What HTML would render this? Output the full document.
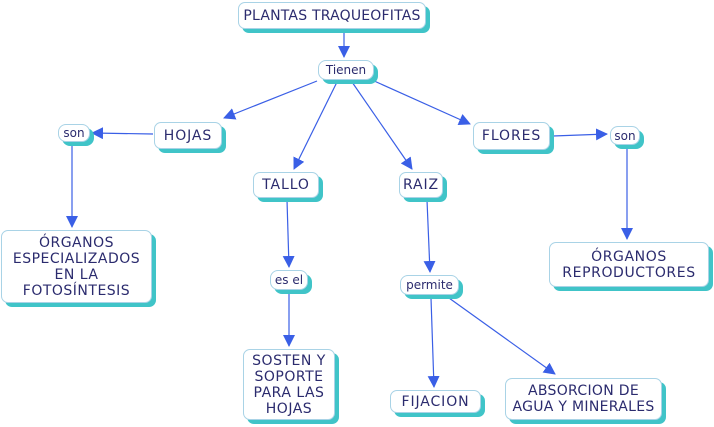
<!DOCTYPE html>
<html><head><meta charset="utf-8"><style>
body{margin:0;width:714px;height:427px;background:#fff;position:relative;overflow:hidden;font-family:"DejaVu Sans","Liberation Sans",sans-serif;}
.b{position:absolute;box-sizing:border-box;background:#fff;border:1px solid #a9d3e6;border-radius:7px;box-shadow:4px 4px 0 #40c4c8;color:#2b2b6e;display:flex;align-items:center;justify-content:center;text-align:center;font-size:14px;line-height:16px;letter-spacing:0.9px;white-space:nowrap}
.s{font-size:12px;border-radius:8px;letter-spacing:0}
svg{position:absolute;left:0;top:0}
</style></head><body>
<svg width="714" height="427">
<defs><marker id="a" markerWidth="12" markerHeight="12" refX="11" refY="6" orient="auto" markerUnits="userSpaceOnUse"><path d="M0,0 L12,6 L0,12 z" fill="#3a5fe6"/></marker></defs>
<g stroke="#3a5fe6" stroke-width="1.2" marker-end="url(#a)">
<line x1="344" y1="30" x2="344" y2="57"/>
<line x1="317" y1="81" x2="224" y2="118"/>
<line x1="337" y1="82" x2="294" y2="169"/>
<line x1="352" y1="82" x2="412" y2="169"/>
<line x1="372" y1="80" x2="470" y2="124"/>
<line x1="153" y1="134" x2="92" y2="133"/>
<line x1="72" y1="142" x2="72" y2="227"/>
<line x1="287" y1="200" x2="289" y2="267"/>
<line x1="289" y1="291" x2="289" y2="346"/>
<line x1="427" y1="200" x2="430" y2="272"/>
<line x1="431" y1="298" x2="434" y2="387"/>
<line x1="449" y1="298" x2="555" y2="374"/>
<line x1="553" y1="136" x2="607" y2="134"/>
<line x1="627" y1="146" x2="627" y2="239"/>
</g></svg>
<div class="b" style="left:238px;top:2px;width:188px;height:27px;letter-spacing:0.2px">PLANTAS TRAQUEOFITAS</div>
<div class="b s" style="left:318px;top:60px;width:56px;height:20px">Tienen</div>
<div class="b" style="left:154px;top:122px;width:68px;height:27px">HOJAS</div>
<div class="b s" style="left:58px;top:124px;width:32px;height:18px">son</div>
<div class="b" style="left:473px;top:122px;width:77px;height:28px">FLORES</div>
<div class="b s" style="left:610px;top:126px;width:30px;height:19px">son</div>
<div class="b" style="left:253px;top:172px;width:66px;height:26px">TALLO</div>
<div class="b" style="left:399px;top:172px;width:44px;height:26px">RAIZ</div>
<div class="b" style="left:1px;top:230px;width:151px;height:73px;letter-spacing:0.5px">ÓRGANOS<br>ESPECIALIZADOS<br>EN LA<br>FOTOSÍNTESIS</div>
<div class="b s" style="left:270px;top:270px;width:38px;height:20px">es el</div>
<div class="b s" style="left:400px;top:275px;width:59px;height:20px">permite</div>
<div class="b" style="left:549px;top:242px;width:160px;height:45px;letter-spacing:0.6px">ÓRGANOS<br>REPRODUCTORES</div>
<div class="b" style="left:243px;top:349px;width:92px;height:71px;letter-spacing:0.5px">SOSTEN Y<br>SOPORTE<br>PARA LAS<br>HOJAS</div>
<div class="b" style="left:390px;top:390px;width:91px;height:23px">FIJACION</div>
<div class="b" style="left:505px;top:378px;width:157px;height:42px;letter-spacing:0.3px">ABSORCION DE<br>AGUA Y MINERALES</div>
</body></html>
